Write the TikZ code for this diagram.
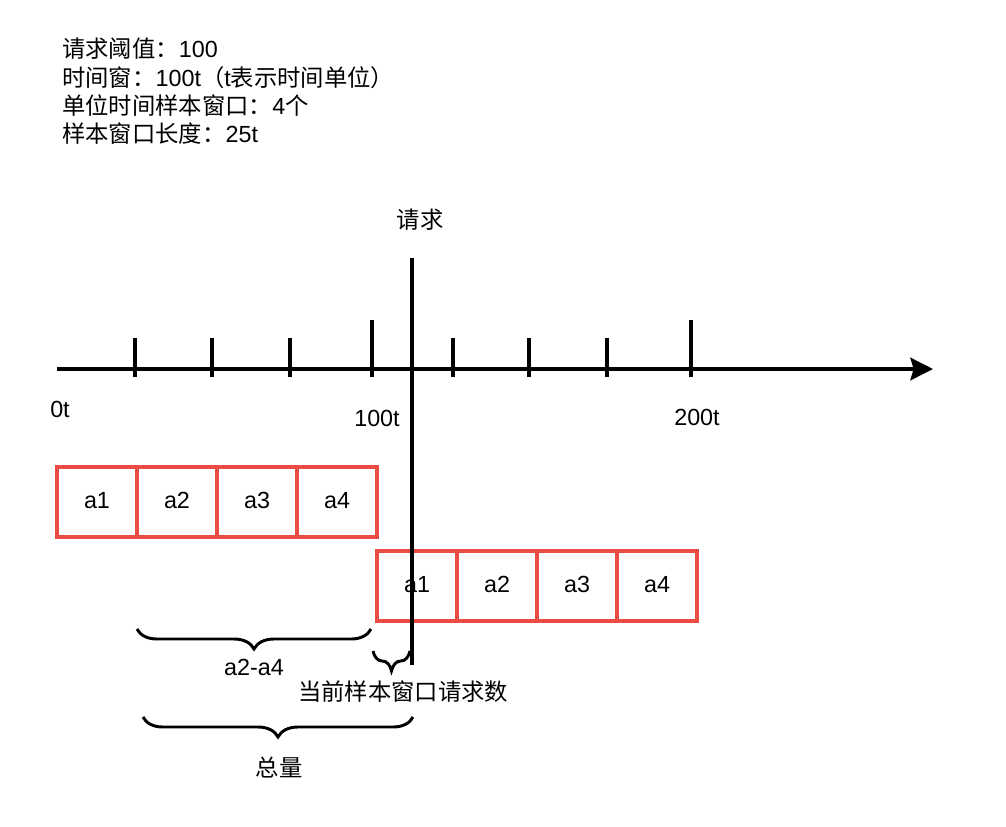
\documentclass[tikz,border=0pt]{standalone}
\usepackage{fontspec}
\setmainfont{Liberation Sans}
\newfontfamily\cjk{Noto Sans CJK SC}
\usetikzlibrary{arrows.meta,decorations.pathreplacing}
\definecolor{winred}{RGB}{234,76,68}
\tikzset{
  lbl/.style={font=\fontsize{17.5}{21}\selectfont, inner sep=0pt},
  win/.style={draw=winred, line width=2.5pt, fill=white, minimum width=60pt, minimum height=52.5pt, inner sep=0pt, text height=1em, text depth=0pt, font=\fontsize{17.5}{21}\selectfont},
  thickline/.style={line width=2.3pt},
  curly/.style={line width=2.2pt, decorate, decoration={brace, mirror, amplitude=15pt}}
}
\begin{document}
\begin{tikzpicture}[x=0.75pt, y=-0.75pt]
	\useasboundingbox (0,0) rectangle (1006,826);
	% parameters
	\node [lbl, anchor=base west] (info1) at (62,57.7) {{\cjk 请求阈值：}100};
	\node [lbl, anchor=base west] (info2) at (62,86) {{\cjk 时间窗：}100t{\cjk （}t{\cjk 表示时间单位）}};
	\node [lbl, anchor=base west] (info3) at (62,114.3) {{\cjk 单位时间样本窗口：}4{\cjk 个}};
	\node [lbl, anchor=base west] (info4) at (62,142.7) {{\cjk 样本窗口长度：}25t};
	% time axis
	\coordinate (t0) at (57,369);
	\coordinate (tend) at (933,369);
	\draw [thickline, -{Stealth[length=17pt, width=17pt, inset=2.5pt]}] (t0) -- (tend);
	\draw [thickline] (135,338) -- (135,377);
	\draw [thickline] (212,338) -- (212,377);
	\draw [thickline] (290,338) -- (290,377);
	\draw [thickline] (372,320) -- (372,377);
	\draw [thickline] (453,338) -- (453,377);
	\draw [thickline] (529,338) -- (529,377);
	\draw [thickline] (607,338) -- (607,377);
	\draw [thickline] (691,320) -- (691,377);
	\node [lbl] (l0) at (60,409) {0t};
	\node [lbl] (l100) at (377,418) {100t};
	\node [lbl] (l200) at (697,417) {200t};
	% windows
	\node [win] (old1) at (97,502) {a1};
	\node [win] (old2) at (177,502) {a2};
	\node [win] (old3) at (257,502) {a3};
	\node [win] (old4) at (337,502) {a4};
	\node [win] (new1) at (417,586) {a1};
	\node [win] (new2) at (497,586) {a2};
	\node [win] (new3) at (577,586) {a3};
	\node [win] (new4) at (657,586) {a4};
	% request
	\node [lbl] (req) at (420,220) {\cjk 请求};
	\coordinate (reqtop) at (412,258);
	\coordinate (reqbot) at (412,665);
	\draw [thickline] (reqtop) -- (reqbot);
	% braces
	\draw [curly] (137,629) -- (371,629);
	\node [lbl] (part) at (254,667) {a2-a4};
	\draw [curly] (373,651) -- (410,651);
	\node [lbl] (cur) at (403,692) {\cjk 当前样本窗口请求数};
	\draw [curly] (143,717) -- (413,717);
	\node [lbl] (total) at (279,767) {\cjk 总量};
\end{tikzpicture}
\end{document}
